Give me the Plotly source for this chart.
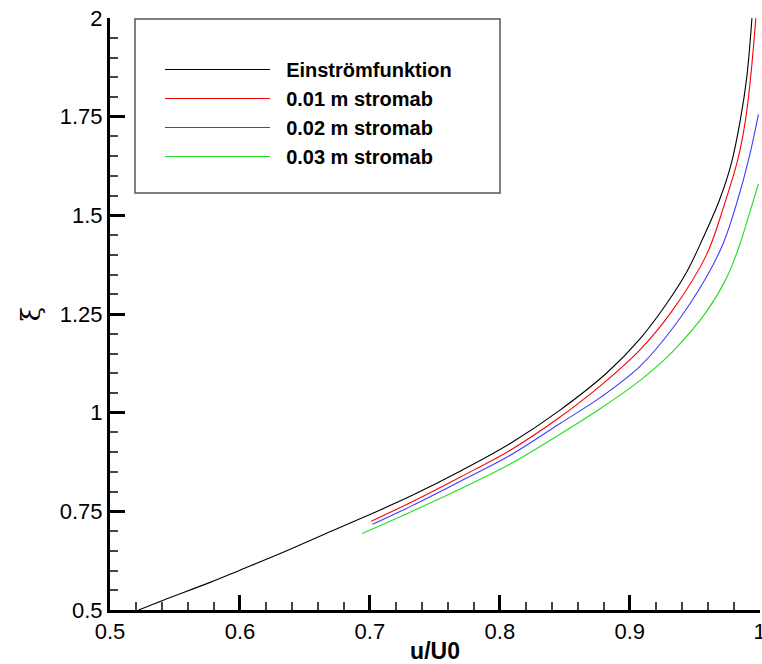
import plotly.graph_objects as go

# ---- data ----
series_names = ["Einströmfunktion", "0.01 m stromab", "0.02 m stromab", "0.03 m stromab"]
series_colors = ["#000000", "#ff0000", "#3c3cff", "#22dd22"]

einstroem_x = [0.522, 0.541, 0.577, 0.600, 0.636, 0.672, 0.700, 0.731, 0.769, 0.808,
               0.846, 0.882, 0.908, 0.928, 0.944, 0.956, 0.969, 0.978, 0.985, 0.990, 0.994]
einstroem_y = [0.500, 0.525, 0.570, 0.601, 0.650, 0.702, 0.742, 0.788, 0.851, 0.922,
               1.006, 1.100, 1.188, 1.275, 1.358, 1.440, 1.539, 1.630, 1.741, 1.850, 2.000]

s001_x = [0.701, 0.731, 0.769, 0.808, 0.845, 0.878, 0.908, 0.933, 0.959, 0.973, 0.983, 0.989, 0.993, 0.997]
s001_y = [0.725, 0.772, 0.836, 0.905, 0.986, 1.070, 1.160, 1.260, 1.400, 1.530, 1.640, 1.741, 1.850, 2.000]

s002_x = [0.702, 0.731, 0.769, 0.808, 0.846, 0.878, 0.908, 0.933, 0.959, 0.972, 0.983, 0.992, 0.999]
s002_y = [0.717, 0.762, 0.825, 0.892, 0.972, 1.040, 1.118, 1.214, 1.344, 1.430, 1.539, 1.649, 1.756]

s003_x = [0.694, 0.731, 0.769, 0.808, 0.846, 0.878, 0.908, 0.933, 0.959, 0.975, 0.985, 0.993, 0.999]
s003_y = [0.694, 0.748, 0.806, 0.870, 0.945, 1.012, 1.082, 1.155, 1.256, 1.345, 1.430, 1.515, 1.580]

x_tick_vals = [0.5, 0.6, 0.7, 0.8, 0.9, 1.0]
x_tick_text = ["0.5", "0.6", "0.7", "0.8", "0.9", "1"]
y_tick_vals = [0.5, 0.75, 1.0, 1.25, 1.5, 1.75, 2.0]
y_tick_text = ["0.5", "0.75", "1", "1.25", "1.5", "1.75", "2"]

xs = [einstroem_x, s001_x, s002_x, s003_x]
ys = [einstroem_y, s001_y, s002_y, s003_y]

FONT = "Liberation Sans, Arial, sans-serif"

fig = go.Figure()
for name, color, x, y in zip(series_names, series_colors, xs, ys):
    fig.add_trace(go.Scatter(x=x, y=y, mode="lines",
                             name="&nbsp;&nbsp;<b>" + name + "</b>",
                             line=dict(color=color, width=1.1, shape="spline", smoothing=1.0)))

axis_common = dict(
    showline=True, linecolor="black", linewidth=3, mirror=False,
    ticks="inside", ticklen=15, tickwidth=3, tickcolor="black",
    showgrid=False, zeroline=False, ticklabeloverflow="allow", automargin=False,
    tickfont=dict(family=FONT, size=22, color="black"),
)

fig.update_xaxes(range=[0.5, 1.0002], tickvals=x_tick_vals, ticktext=x_tick_text,
                 minor=dict(ticks="inside", ticklen=8, tickwidth=1.5, tickcolor="#444",
                            dtick=0.02, tick0=0.5, showgrid=False),
                 title=dict(text="<b>u/U0</b>", font=dict(family=FONT, size=23, color="black"),
                            standoff=4),
                 **axis_common)
fig.update_yaxes(range=[0.5, 2.0003], tickvals=y_tick_vals, ticktext=y_tick_text,
                 minor=dict(ticks="inside", ticklen=8, tickwidth=1.5, tickcolor="#444",
                            dtick=0.05, tick0=0.5, showgrid=False),
                 title=dict(text="ξ", font=dict(family="DejaVu Serif, serif", size=26, color="black"),
                            standoff=12),
                 **axis_common)

# legend frame
fig.add_shape(type="rect", xref="paper", yref="paper",
              x0=(135 - 110) / 650, x1=(500 - 110) / 650,
              y0=(610 - 193) / 592, y1=(610 - 19) / 592,
              line=dict(color="#555", width=1.5), fillcolor="white", layer="below")

fig.update_layout(
    width=762, height=664,
    margin=dict(l=110, r=2, t=18, b=54, autoexpand=False),
    plot_bgcolor="white", paper_bgcolor="white",
    font=dict(family=FONT, color="black"),
    legend=dict(x=(160 - 110) / 650, y=(610 - 50) / 592, xanchor="left", yanchor="top",
                bgcolor="rgba(0,0,0,0)", borderwidth=0,
                font=dict(family=FONT, size=20, color="black"),
                itemwidth=105, tracegroupgap=0),
    showlegend=True,
)

fig.write_html("out.html", config={"displayModeBar": False},
               post_script="document.body.style.margin='0px';document.body.style.overflow='hidden';")
